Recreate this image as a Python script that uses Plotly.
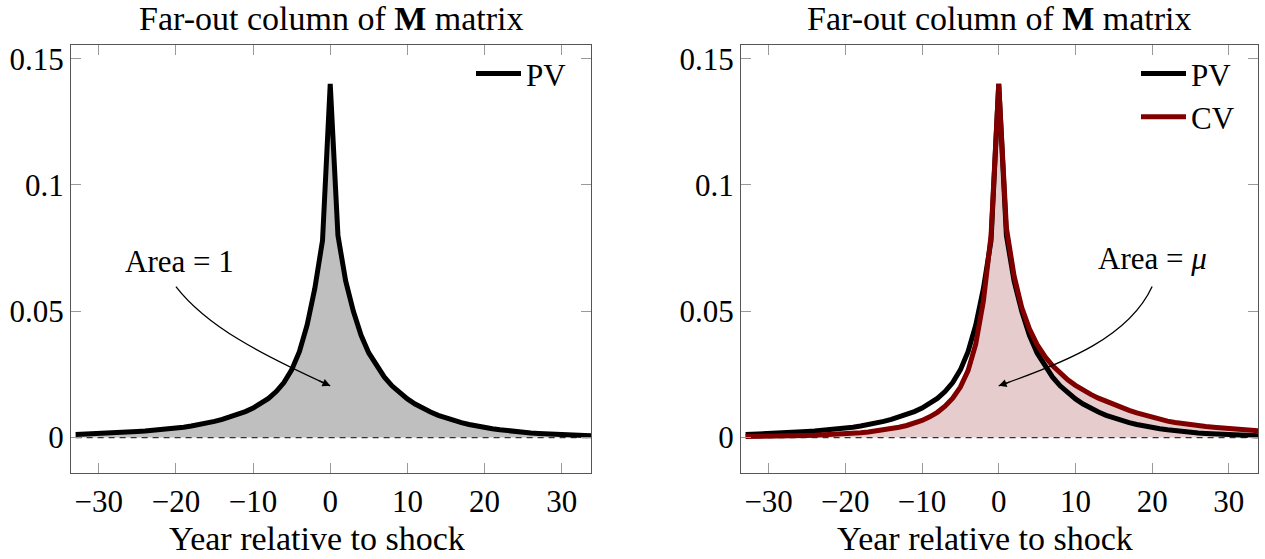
import plotly.graph_objects as go

# ---------------- data ----------------
years = list(range(-33, 35))

pv = [0.0012, 0.0013, 0.0014, 0.0015, 0.0017, 0.0018, 0.0020, 0.0022, 0.0024, 0.0026,
      0.0028, 0.0031, 0.0034, 0.0037, 0.0041, 0.0046, 0.0051, 0.0057, 0.0064, 0.0072,
      0.0081, 0.0091, 0.0103, 0.0117, 0.0134, 0.0155, 0.0182, 0.0218, 0.0268, 0.0340,
      0.0445, 0.0590, 0.0780,
      0.1400,
      0.0800, 0.0620, 0.0500, 0.0405, 0.0335, 0.0283, 0.0240, 0.0205, 0.0177, 0.0153,
      0.0133, 0.0116, 0.0101, 0.0088, 0.0077, 0.0067, 0.0059, 0.0052, 0.0045, 0.0040,
      0.0035, 0.0031, 0.0027, 0.0024, 0.0021, 0.0018, 0.0016, 0.0014, 0.0012, 0.0011,
      0.0010, 0.0009, 0.0008, 0.0007]

cv = [0.0004, 0.0004, 0.0005, 0.0005, 0.0006, 0.0006, 0.0007, 0.0008, 0.0008, 0.0009,
      0.0010, 0.0012, 0.0013, 0.0015, 0.0017, 0.0019, 0.0022, 0.0026, 0.0030, 0.0035,
      0.0041, 0.0048, 0.0057, 0.0068, 0.0082, 0.0100, 0.0124, 0.0156, 0.0200, 0.0265,
      0.0370, 0.0540, 0.0800,
      0.1400,
      0.0830, 0.0640, 0.0515, 0.0430, 0.0368, 0.0322, 0.0285, 0.0255, 0.0229, 0.0207,
      0.0188, 0.0171, 0.0156, 0.0143, 0.0131, 0.0119, 0.0108, 0.0098, 0.0089, 0.0080,
      0.0072, 0.0065, 0.0060, 0.0055, 0.0051, 0.0047, 0.0044, 0.0041, 0.0038, 0.0036,
      0.0033, 0.0031, 0.0029, 0.0027]

baseline = [0.0 for _ in years]

x_ticks = [-30, -20, -10, 0, 10, 20, 30]
x_ticktext = ["\u221230", "\u221220", "\u221210", "0", "10", "20", "30"]
y_ticks = [0, 0.05, 0.1, 0.15]
y_ticktext = ["0", "0.05", "0.1", "0.15"]

panel_title = "Far-out column of <b>M</b> matrix"
x_title = "Year relative to shock"

# ---------------- style ----------------
FONT = "Liberation Serif"
BLACK = "#000000"
RED = "#800000"
GRAY_FILL = "rgb(191,191,191)"
RED_FILL = "rgb(230,204,205)"
W = 1265
H = 559
LW = 5

fig = go.Figure()

# ---- left panel ----
fig.add_trace(go.Scatter(x=years, y=pv, mode="lines", fill="tozeroy",
                         fillcolor=GRAY_FILL, line=dict(width=0, color=GRAY_FILL),
                         showlegend=False, hoverinfo="skip", xaxis="x", yaxis="y"))
fig.add_trace(go.Scatter(x=years, y=baseline, mode="lines",
                         line=dict(color="#333333", width=1.4, dash="6px,5px"),
                         showlegend=False, hoverinfo="skip", xaxis="x", yaxis="y"))
fig.add_trace(go.Scatter(x=years, y=pv, mode="lines", name="PV",
                         line=dict(color=BLACK, width=LW),
                         legend="legend", xaxis="x", yaxis="y"))

# ---- right panel ----
fig.add_trace(go.Scatter(x=years, y=cv, mode="lines", fill="tozeroy",
                         fillcolor=RED_FILL, line=dict(width=0, color=RED_FILL),
                         showlegend=False, hoverinfo="skip", xaxis="x2", yaxis="y2"))
fig.add_trace(go.Scatter(x=years, y=baseline, mode="lines",
                         line=dict(color="#333333", width=1.4, dash="6px,5px"),
                         showlegend=False, hoverinfo="skip", xaxis="x2", yaxis="y2"))
fig.add_trace(go.Scatter(x=years, y=pv, mode="lines", name="PV",
                         line=dict(color=BLACK, width=LW),
                         legend="legend2", xaxis="x2", yaxis="y2"))
fig.add_trace(go.Scatter(x=years, y=cv, mode="lines", name="CV",
                         line=dict(color=RED, width=LW),
                         legend="legend2", xaxis="x2", yaxis="y2"))

left_dom = [71 / W, 591 / W]
right_dom = [741 / W, 1258 / W]
y_dom = [1 - 473 / H, 1 - 42 / H]

axis_common = dict(showline=True, linecolor="#555555", linewidth=1.3, mirror="ticks",
                   ticks="inside", ticklen=10, tickcolor="#999999", tickwidth=1.2,
                   showgrid=False, zeroline=False,
                   tickfont=dict(family=FONT, size=31, color=BLACK))

xaxis_common = dict(axis_common, range=[-33.6, 33.8], tickmode="array",
                    tickvals=x_ticks, ticktext=x_ticktext)
yaxis_common = dict(axis_common, range=[-0.0142, 0.1555], tickmode="array",
                    tickvals=y_ticks, ticktext=y_ticktext)

legend_common = dict(xanchor="right", y=1 - 44 / H, yanchor="top",
                     bgcolor="rgba(0,0,0,0)", font=dict(family=FONT, size=31, color=BLACK),
                     itemwidth=45, tracegroupgap=0)

fig.update_layout(
    width=W, height=H, margin=dict(l=0, r=0, t=0, b=0),
    paper_bgcolor="white", plot_bgcolor="white",
    font=dict(family=FONT, color=BLACK),
    xaxis=dict(xaxis_common, domain=left_dom, anchor="y"),
    yaxis=dict(yaxis_common, domain=y_dom, anchor="x"),
    xaxis2=dict(xaxis_common, domain=right_dom, anchor="y2"),
    yaxis2=dict(yaxis_common, domain=y_dom, anchor="x2"),
    legend=dict(legend_common, x=572 / W),
    legend2=dict(legend_common, x=1240 / W),
    showlegend=True,
)

# panel titles and x-axis titles
for dom in (left_dom, right_dom):
    fig.add_annotation(text=panel_title, xref="paper", yref="paper",
                       x=(dom[0] + dom[1]) / 2, y=1 - 16 / H, xanchor="center", yanchor="middle",
                       showarrow=False, font=dict(family=FONT, size=34, color=BLACK))
    fig.add_annotation(text=x_title, xref="paper", yref="paper",
                       x=(dom[0] + dom[1]) / 2 - 14 / W, y=1 - 538 / H,
                       xanchor="center", yanchor="middle",
                       showarrow=False, font=dict(family=FONT, size=34, color=BLACK))

# "Area" labels
fig.add_annotation(text="Area = 1", xref="x", yref="y", x=-19.5, y=0.0699,
                   showarrow=False, font=dict(family=FONT, size=31, color=BLACK))
fig.add_annotation(text="Area = <i>\u03bc</i>", xref="x2", yref="y2", x=20.0, y=0.0709,
                   showarrow=False, font=dict(family=FONT, size=31, color=BLACK))

# curved arrows (bezier paths) + heads
fig.add_shape(type="path", xref="x", yref="y",
              path="M -20,0.0598 C -16,0.044 -9,0.033 0,0.0205",
              line=dict(color=BLACK, width=1.3))
fig.add_annotation(x=0, y=0.0205, ax=-1.6, ay=0.0227, xref="x", yref="y",
                   axref="x", ayref="y", text="", showarrow=True,
                   arrowhead=2, arrowsize=1.2, arrowwidth=1.3, arrowcolor=BLACK)

fig.add_shape(type="path", xref="x2", yref="y2",
              path="M 20,0.0598 C 17,0.040 9,0.030 0,0.0205",
              line=dict(color=BLACK, width=1.3))
fig.add_annotation(x=0, y=0.0205, ax=1.6, ay=0.0222, xref="x2", yref="y2",
                   axref="x2", ayref="y2", text="", showarrow=True,
                   arrowhead=2, arrowsize=1.2, arrowwidth=1.3, arrowcolor=BLACK)

fig.write_html("out.html")
